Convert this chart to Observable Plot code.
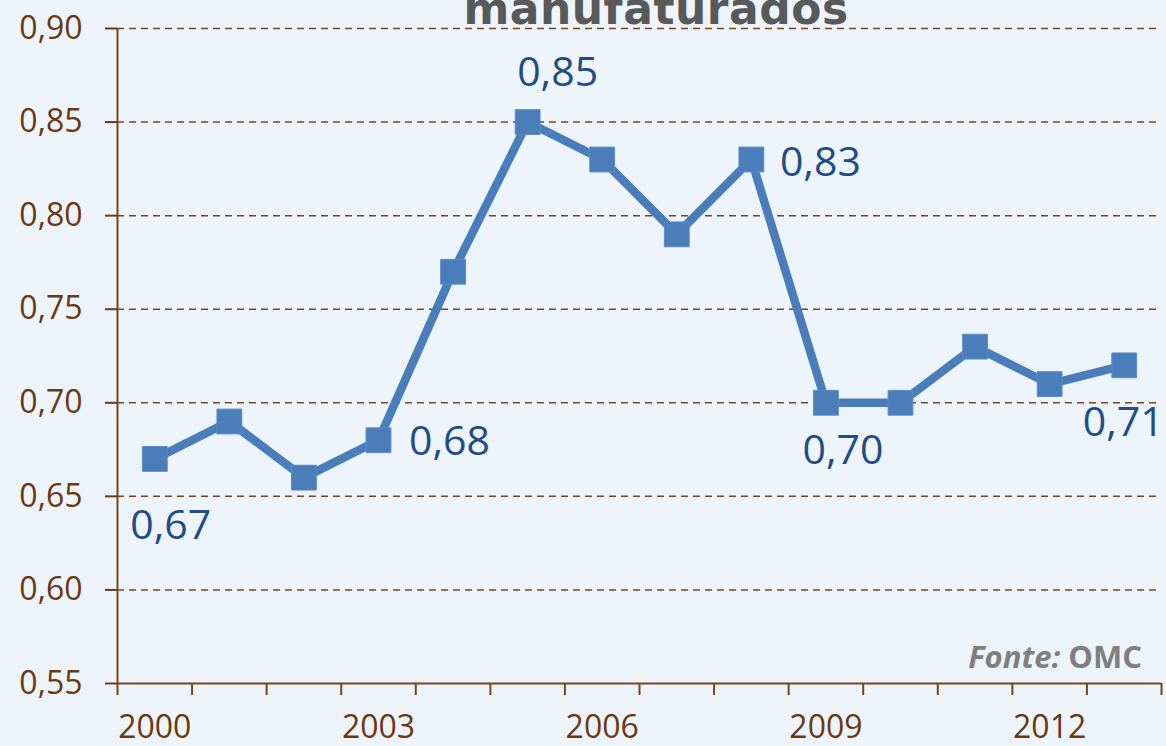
<!DOCTYPE html>
<html><head><meta charset="utf-8">
<script src="https://cdn.jsdelivr.net/npm/d3@7"></script>
<script src="https://cdn.jsdelivr.net/npm/@observablehq/plot@0.6"></script>
<style>
html,body{margin:0;padding:0;background:#EDF4FB;}
#wrap{position:relative;width:1166px;height:746px;overflow:hidden;background:#EDF4FB;}
#title{position:absolute;left:0;top:-13px;width:1166px;text-align:center;padding-left:146px;box-sizing:border-box;
  font-family:"DejaVu Sans",sans-serif;font-weight:bold;font-size:44px;line-height:44px;color:#595959;letter-spacing:0.5px;}
#source{position:absolute;right:24px;top:640px;font-family:"Open Sans",sans-serif;font-weight:bold;font-size:31px;line-height:32px;color:#7F7F7F;}
#chart{position:absolute;left:0;top:0;}
</style></head><body>
<div id="wrap"><div id="chart"></div><div id="title">manufaturados</div><div id="source"><i>Fonte:</i> OMC</div></div>
<script>
const years = [2000, 2001, 2002, 2003, 2004, 2005, 2006, 2007, 2008, 2009, 2010, 2011, 2012, 2013];
const values = [0.67, 0.69, 0.66, 0.68, 0.77, 0.85, 0.83, 0.79, 0.83, 0.70, 0.70, 0.73, 0.71, 0.72];
const yTicks = [0.55, 0.60, 0.65, 0.70, 0.75, 0.80, 0.85, 0.90];
const xLabelYears = [2000, 2003, 2006, 2009, 2012];
const labelYears = [2000, 2003, 2005, 2008, 2009, 2013];
const labelTexts = ["0,67", "0,68", "0,85", "0,83", "0,70", "0,71"];

const data = years.map((year, i) => ({year, value: values[i]}));
const labels = labelYears.map((year, i) => ({year, value: values[years.indexOf(year)], text: labelTexts[i]}));
const bounds = years.map(y => y - 0.5).concat([years[years.length - 1] + 0.5]);

const brown = "#7A4518";
const labelBrown = "#6B3810";
const blue = "#4A7EBB";
const dark = "#1F4E86";
const fmt = d => d3.format(".2f")(d).replace(".", ",");
const offsets = [[16, 67], [71, 2], [30, -49], [69, 3], [17, 48], [-1, 58]];

const chart = Plot.plot({
  width: 1166, height: 746,
  marginLeft: 117, marginRight: 5, marginTop: 28, marginBottom: 63,
  style: {background: "transparent", fontFamily: "'Open Sans', sans-serif"},
  x: {type: "linear", domain: [bounds[0], bounds[bounds.length - 1]], label: null},
  y: {domain: [0.55, 0.90], label: null},
  marks: [
    Plot.gridY(yTicks.slice(1), {stroke: brown, strokeOpacity: 1, strokeWidth: 1.5, strokeDasharray: "7,5"}),
    Plot.ruleY([0.55], {stroke: brown, strokeWidth: 2}),
    Plot.ruleX([bounds[0]], {stroke: brown, strokeWidth: 2}),
    Plot.axisY({ticks: yTicks, tickSize: 12, tickPadding: 23, tickFormat: fmt, fontSize: 32, color: labelBrown, strokeWidth: 2, label: null}),
    Plot.axisX({ticks: bounds, tickSize: 12, tickFormat: () => "", color: brown, strokeWidth: 2, label: null}),
    Plot.axisX({ticks: xLabelYears, tickSize: 0, tickPadding: 32, tickFormat: d => String(d), fontSize: 32, color: labelBrown, label: null}),
    Plot.lineY(data, {x: "year", y: "value", stroke: blue, strokeWidth: 8.5}),
    Plot.dot(data, {x: "year", y: "value", symbol: "square", r: 14, fill: blue, stroke: "#5B8CC6", strokeWidth: 1}),
    ...labels.map((d, i) => Plot.text([d], {x: "year", y: "value", text: "text", dx: offsets[i][0], dy: offsets[i][1], fontSize: 41, fill: dark}))
  ]
});
document.getElementById("chart").appendChild(chart);
</script>
</body></html>
